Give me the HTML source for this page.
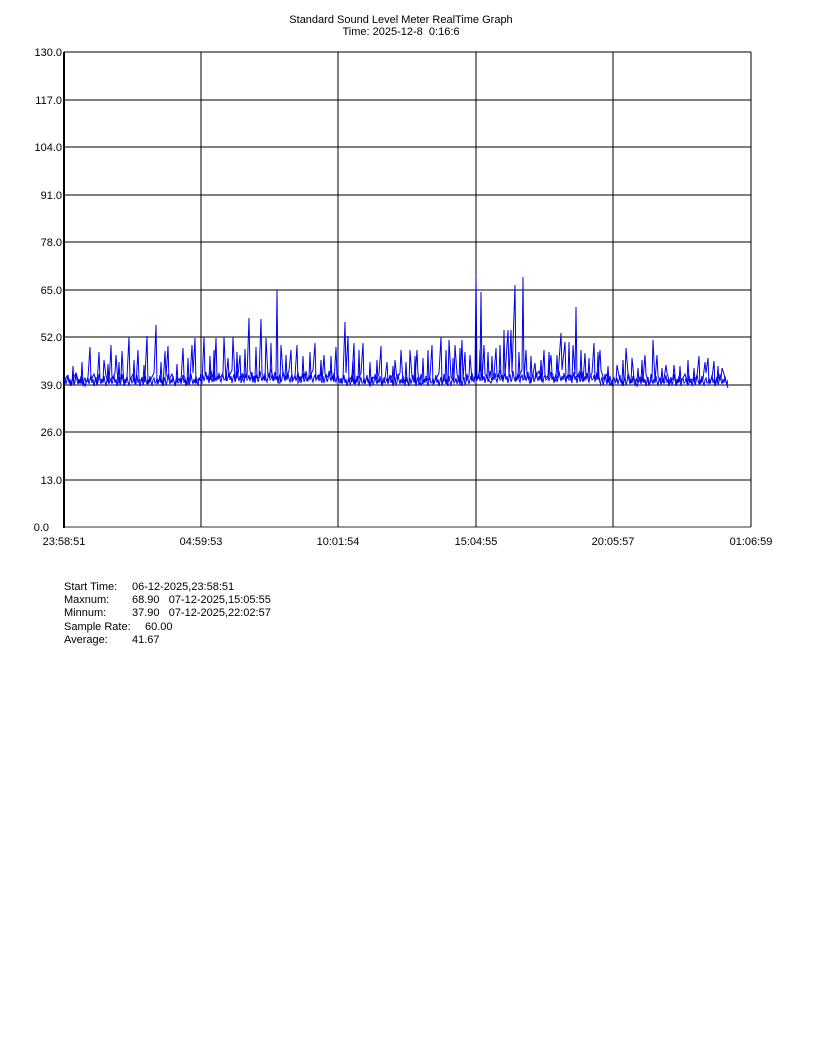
<!DOCTYPE html>
<html><head><meta charset="utf-8"><style>
html,body{margin:0;padding:0;background:#fff;}
svg{display:block;}
text{font-family:"Liberation Sans",Arial,sans-serif;font-size:11px;fill:#000;white-space:pre;}
</style></head><body>
<svg width="816" height="1056" viewBox="0 0 816 1056" xmlns="http://www.w3.org/2000/svg" xml:space="preserve">
<defs>
<pattern id="nz" patternUnits="userSpaceOnUse" x="64" y="370" width="23" height="20">
<polyline fill="none" stroke="#0000f0" stroke-width="1" points="0,12 1,8 2,14 3,10 4,5 5,13 6,9 7,16 8,11 9,7 10,15 11,12 12,4 13,10 14,14 15,9 16,13 17,6 18,12 19,15 20,10 21,8 22,13 23,12"/>
</pattern>
</defs>
<rect width="816" height="1056" fill="#fff"/>
<text x="401" y="23" text-anchor="middle">Standard Sound Level Meter RealTime Graph</text>
<text x="401" y="35" text-anchor="middle">Time: 2025-12-8  0:16:6</text>
<g stroke="#000" stroke-width="1" fill="none" shape-rendering="crispEdges">
<line x1="64" y1="52" x2="751" y2="52"/>
<line x1="64" y1="100" x2="751" y2="100"/>
<line x1="64" y1="147" x2="751" y2="147"/>
<line x1="64" y1="195" x2="751" y2="195"/>
<line x1="64" y1="242" x2="751" y2="242"/>
<line x1="64" y1="290" x2="751" y2="290"/>
<line x1="64" y1="337" x2="751" y2="337"/>
<line x1="64" y1="385" x2="751" y2="385"/>
<line x1="64" y1="432" x2="751" y2="432"/>
<line x1="64" y1="480" x2="751" y2="480"/>
<line x1="64" y1="527" x2="751" y2="527" stroke="#333"/>
<line x1="201" y1="52" x2="201" y2="527"/>
<line x1="338" y1="52" x2="338" y2="527"/>
<line x1="476" y1="52" x2="476" y2="527"/>
<line x1="613" y1="52" x2="613" y2="527"/>
<line x1="751" y1="52" x2="751" y2="527"/>
<line x1="64" y1="52" x2="64" y2="528" stroke-width="2"/>
</g>
<g text-anchor="end">
<text x="62" y="56">130.0</text>
<text x="62" y="104">117.0</text>
<text x="62" y="151">104.0</text>
<text x="62" y="199">91.0</text>
<text x="62" y="246">78.0</text>
<text x="62" y="294">65.0</text>
<text x="62" y="341">52.0</text>
<text x="62" y="389">39.0</text>
<text x="62" y="436">26.0</text>
<text x="62" y="484">13.0</text>
<text x="49" y="531">0.0</text>
</g>
<g text-anchor="middle">
<text x="64" y="545">23:58:51</text>
<text x="201" y="545">04:59:53</text>
<text x="338" y="545">10:01:54</text>
<text x="476" y="545">15:04:55</text>
<text x="613" y="545">20:05:57</text>
<text x="751" y="545">01:06:59</text>
</g>
<rect x="64" y="372" width="136" height="17" fill="url(#nz)"/>
<g transform="translate(0,-3)">
<rect x="200" y="370" width="140" height="19" fill="url(#nz)"/>
</g>
<rect x="340" y="372" width="130" height="17" fill="url(#nz)"/>
<g transform="translate(0,-3)">
<rect x="470" y="370" width="130" height="19" fill="url(#nz)"/>
</g>
<rect x="600" y="372" width="128" height="17" fill="url(#nz)"/>
<path fill="none" stroke="#0000ee" stroke-width="1" d="M64,381 L67,376 70,384 73,379 76,373 79,383 82,378 85,386 88,377 90,347 91,380 94,374 97,385 99,352 100,379 103,381 104,360 106,376 109,384 111,345 112,379 115,373 116,355 118,383 121,378 122,351 124,386 127,377 129,337 130,380 133,374 136,385 138,350 139,379 142,381 145,376 147,336 148,384 151,379 154,373 156,325 157,383 160,378 163,386 165,351 166,377 168,346 169,380 172,374 175,385 178,379 181,381 183,348 184,376 187,384 190,379 192,345 193,373 195,338 196,383 199,378 202,383 204,337 205,374 208,377 211,371 214,382 216,338 217,376 220,378 223,373 224,337 226,381 228,358 229,376 232,370 233,337 235,380 238,375 240,355 241,383 244,374 247,377 249,318 250,371 253,382 256,376 259,378 261,319 262,373 265,381 266,338 268,376 271,370 274,380 276,375 277,290 278,383 280,383 281,345 283,374 286,377 289,371 291,350 292,382 295,376 297,345 298,383 301,378 304,373 307,381 310,376 313,370 315,343 316,380 319,375 322,383 324,355 325,374 328,377 331,371 334,382 336,347 337,376 340,383 343,378 345,322 346,373 348,336 349,381 352,376 354,343 355,384 358,379 361,373 363,343 364,383 367,378 370,386 373,377 376,380 379,374 381,346 382,385 385,379 387,362 388,381 391,376 394,384 395,360 397,379 400,373 401,350 403,383 406,378 409,386 410,350 412,377 415,380 417,350 418,374 421,385 424,379 427,381 430,376 432,345 433,384 436,379 439,373 441,337 442,383 445,378 448,386 449,340 451,377 454,380 455,345 457,374 460,385 462,340 463,379 465,352 466,381 469,376 470,355 472,381 475,376 476,275 477,380 480,370 481,292 482,381 484,345 485,374 488,379 491,383 494,374 496,348 497,377 500,371 503,382 504,330 505,376 508,330 509,378 511,330 512,373 515,285 516,381 519,376 522,370 523,277 524,380 526,350 527,375 530,383 533,374 535,363 536,377 539,371 542,382 544,350 545,376 548,378 551,355 552,373 555,381 558,376 561,333 562,370 565,342 566,380 569,375 572,383 573,345 575,374 576,307 577,377 580,371 583,382 585,353 586,376 589,378 592,373 594,343 595,381 598,376 600,350 601,370 604,380 607,374 610,385 613,379 616,381 617,365 619,376 622,384 625,379 626,348 628,373 631,383 632,358 634,378 637,386 640,377 643,380 645,355 646,374 649,385 652,379 653,340 655,381 657,355 658,376 661,384 664,379 666,365 667,373 670,383 673,378 674,365 676,386 679,377 682,380 685,374 688,385 691,379 694,381 697,376 699,356 700,384 703,379 705,362 706,373 708,358 709,383 712,378 714,361 715,386 718,377 721,380 722,368 724,374 727,385 728,388"/>
<path fill="none" stroke="#0000ee" stroke-width="1" d="M72,384 L73,366 74,384 M81,384 L82,362 83,384 M107,382 L108,364 109,382 M118,382 L119,362 120,382 M133,382 L134,360 135,382 M143,382 L144,365 145,382 M160,382 L161,362 162,382 M176,382 L177,364 178,382 M187,382 L188,358 189,382 M209,380 L210,356 211,380 M213,380 L214,350 215,380 M236,378 L237,352 238,378 M244,378 L245,349 246,378 M255,378 L256,347 257,378 M270,378 L271,343 272,378 M285,378 L286,355 287,378 M302,378 L303,356 304,378 M309,378 L310,352 311,378 M320,378 L321,360 322,378 M330,378 L331,356 332,378 M352,382 L353,360 354,382 M358,382 L359,350 360,382 M369,382 L370,362 371,382 M376,382 L377,360 378,382 M392,382 L393,366 394,382 M405,382 L406,362 407,382 M414,382 L415,356 416,382 M422,382 L423,358 424,382 M427,382 L428,350 429,382 M445,382 L446,350 447,382 M452,382 L453,358 454,382 M459,382 L460,348 461,382 M479,378 L480,350 481,378 M487,378 L488,352 489,378 M491,378 L492,356 493,378 M499,378 L500,345 501,378 M518,378 L519,352 520,378 M530,378 L531,356 532,378 M540,378 L541,360 542,378 M548,378 L549,352 550,378 M556,378 L557,355 558,378 M568,378 L569,342 570,378 M580,378 L581,350 582,378 M588,378 L589,358 590,378 M597,378 L598,352 599,378 M607,382 L608,366 609,382 M622,382 L623,360 624,382 M637,382 L638,368 639,382 M641,382 L642,360 643,382 M661,382 L662,368 663,382 M679,382 L680,366 681,382 M687,382 L688,360 689,382 M693,382 L694,368 695,382 M717,382 L718,366 719,382"/>
<text x="64" y="590">Start Time:</text>
<text x="132" y="590">06-12-2025,23:58:51</text>
<text x="64" y="603">Maxnum:</text>
<text x="132" y="603">68.90   07-12-2025,15:05:55</text>
<text x="64" y="616">Minnum:</text>
<text x="132" y="616">37.90   07-12-2025,22:02:57</text>
<text x="64" y="630">Sample Rate:</text>
<text x="145" y="630">60.00</text>
<text x="64" y="643">Average:</text>
<text x="132" y="643">41.67</text>
</svg>
</body></html>
